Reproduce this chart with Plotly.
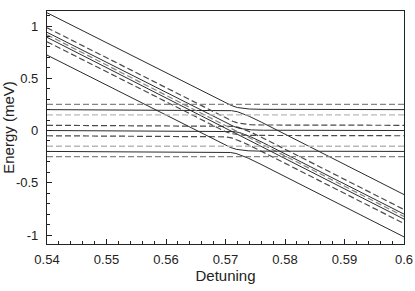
import plotly.graph_objects as go

# ---- data ----
x_range = [0.54, 0.60]
y_range = [-1.086, 1.144]

# diagonal (detuning-dependent) levels: value at left edge and right edge
diag_left = [1.127, 0.984, 0.94, 0.917, 0.892, 0.85, 0.722]
diag_right = [-0.613, -0.756, -0.80, -0.823, -0.848, -0.89, -1.018]
diag_style = ["solid", "dark", "solid", "gray", "solid", "dark", "solid"]
diag_partner = [0.2, 0.05, 0.0, None, None, -0.05, -0.2]
cross_x = [0.5720, 0.5722, 0.5724, None, None, 0.5710, 0.5718]

# flat levels
levels = [0.25, 0.2, 0.15, 0.05, 0.0, -0.05, -0.15, -0.2, -0.25]
level_style = ["gray", "solid", "light", "dark", "solid", "dark", "light", "solid", "gray"]

# shape of an anticrossing (offsets from the crossing point / flat level)
bend_dx = [-0.004, -0.002, -0.001, 0.0, 0.001, 0.002, 0.004]
upper_dy = [0.119, 0.064, 0.039, 0.020, 0.010, 0.006, 0.003]
lower_dy = [-0.003, -0.006, -0.010, -0.020, -0.039, -0.064, -0.119]

x_tick_vals = [0.54, 0.55, 0.56, 0.57, 0.58, 0.59, 0.60]
x_tick_text = ["0.54", "0.55", "0.56", "0.57", "0.58", "0.59", "0.6"]
y_tick_vals = [-1, -0.5, 0, 0.5, 1]
y_tick_text = ["-1", "-0.5", "0", "0.5", "1"]

styles = {
    "solid": dict(color="#2b2b2b", width=1.0, dash="solid"),
    "dark": dict(color="#4a4a4a", width=1.2, dash="6px,3px"),
    "gray": dict(color="#858585", width=1.2, dash="6px,3px"),
    "light": dict(color="#b8b8b8", width=1.4, dash="6px,3px"),
}

fig = go.Figure()


def add(xs, ys, st):
    fig.add_trace(go.Scatter(x=xs, y=ys, mode="lines", line=styles[st],
                             hoverinfo="skip", showlegend=False))


used_levels = set()
for dl, dr, st, h, xc in zip(diag_left, diag_right, diag_style, diag_partner, cross_x):
    if h is None:
        add([x_range[0], x_range[1]], [dl, dr], st)
        continue
    used_levels.add(h)
    bx = [xc + d for d in bend_dx]
    # upper branch: diagonal on the left, flat on the right
    add([x_range[0]] + bx + [x_range[1]], [dl] + [h + d for d in upper_dy] + [h], st)
    # lower branch: flat on the left, diagonal on the right
    add([x_range[0]] + bx + [x_range[1]], [h] + [h + d for d in lower_dy] + [dr], st)

for h, st in zip(levels, level_style):
    if h in used_levels:
        continue
    add([x_range[0], x_range[1]], [h, h], st)

axis_common = dict(
    ticks="inside", ticklen=5, tickwidth=1, tickcolor="#222",
    showline=True, linecolor="#222", linewidth=1.2, mirror=True,
    showgrid=False, zeroline=False, automargin=False,
    tickfont=dict(size=13, color="#222"),
)

fig.update_xaxes(range=x_range, tickmode="array", tickvals=x_tick_vals, ticktext=x_tick_text,
                 minor=dict(tickmode="linear", tick0=0.54, dtick=0.002, ticks="inside",
                            ticklen=3, tickcolor="#222"),
                 ticklabelstandoff=3,
                 title=dict(text="Detuning", font=dict(size=15, color="#222"), standoff=4),
                 **axis_common)
fig.update_yaxes(range=y_range, tickmode="array", tickvals=y_tick_vals, ticktext=y_tick_text,
                 minor=dict(tickmode="linear", tick0=0, dtick=0.1, ticks="inside",
                            ticklen=3, tickcolor="#222"),
                 ticklabelstandoff=5,
                 title=dict(text="Energy (meV)", font=dict(size=15, color="#222"), standoff=4),
                 **axis_common)

fig.update_layout(width=415, height=291, margin=dict(l=47, r=11, t=11, b=47, autoexpand=False),
                  plot_bgcolor="white", paper_bgcolor="white", showlegend=False,
                  font=dict(family="Liberation Sans, Arial, sans-serif", size=13, color="#222"))

fig.write_html("out.html", config={"displayModeBar": False},
               post_script="document.body.style.margin='0';")
